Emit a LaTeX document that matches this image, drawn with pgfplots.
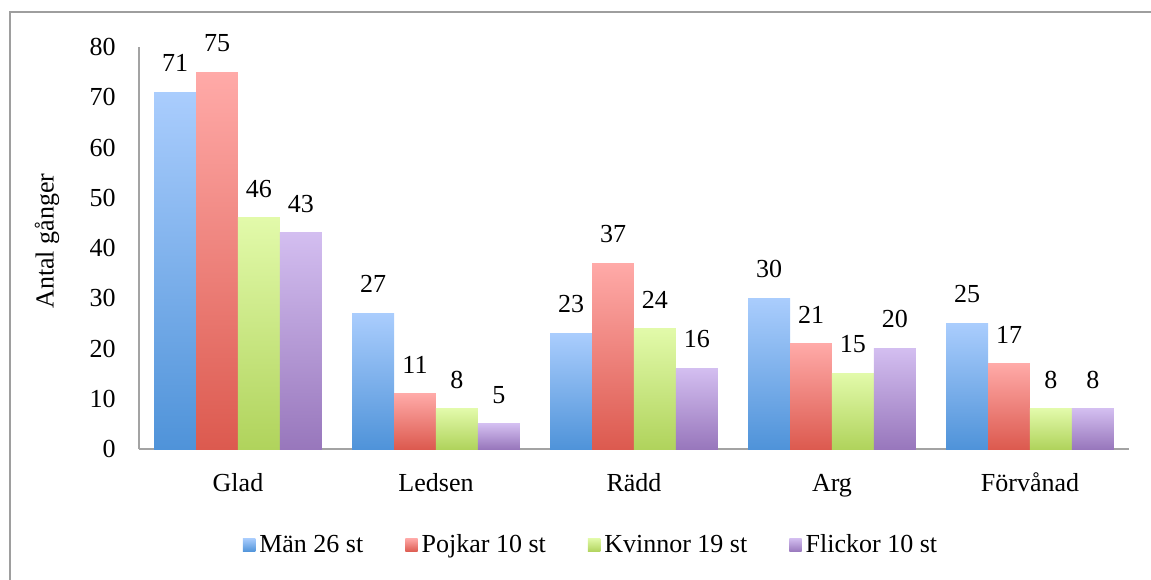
\documentclass[border=0pt]{standalone}
\usepackage{fontspec}
\setmainfont{Liberation Serif}
\usepackage{pgfplots}
\pgfplotsset{compat=1.18}
\definecolor{axgray}{HTML}{A3A3A3}
\definecolor{frame}{HTML}{9E9E9E}
\definecolor{blueT}{HTML}{AACDFD}
\definecolor{blueB}{HTML}{4F93D9}
\definecolor{redT}{HTML}{FFAAA8}
\definecolor{redB}{HTML}{DC5A4F}
\definecolor{greenT}{HTML}{E2FAAA}
\definecolor{greenB}{HTML}{B0D35C}
\definecolor{purpT}{HTML}{D3BEF0}
\definecolor{purpB}{HTML}{9877BC}
\newcommand{\cf}{\fontsize{13}{15.6}\selectfont}
% one bar per \addplot so each bar gets its own gradient
\newcommand{\gbar}[4]{\addplot[forget plot, draw=none, top color=#1T, bottom color=#1B, bar shift=#2] coordinates {(#3,#4)};}

\begin{document}
\begin{tikzpicture}
\begin{axis}[
  name=ax, scale only axis, width=495pt, height=201pt,
  ybar=0pt, bar width=0.212,
  xmin=-0.5, xmax=4.5, ymin=0, ymax=80, clip=false,
  xtick={0,...,4}, xticklabels={Glad,Ledsen,Rädd,Arg,Förvånad},
  ytick={0,10,...,80},
  axis x line*=bottom, axis y line*=left,
  axis line style={axgray, line width=0.9pt, -},
  tick style={draw=none},
  /pgf/number format/assume math mode=true,
  tick label style={font=\cf},
  yticklabel style={anchor=east, inner sep=0pt, xshift=-11.5pt},
  xticklabel style={anchor=base, inner sep=0pt, yshift=-17pt},
  ylabel={Antal gånger},
  ylabel style={font=\cf, at={(axis description cs:-0.093,0.517)}, anchor=center},
  nodes near coords,
  every node near coord/.append style={font=\cf, inner sep=0pt, yshift=10pt, black},
  legend columns=4,
  legend style={draw=none, fill=none, font=\cf, at={(axis description cs:0.4576,0)},
    anchor=center, yshift=-48pt, /tikz/every even column/.append style={column sep=19pt}},
  legend cell align=left,
  legend image code/.code={\path[#1] (0pt,-3.4pt) rectangle (6.2pt,3.4pt);},
]
% Män 26 st
\gbar{blue}{-0.318}{0}{71} \gbar{blue}{-0.318}{1}{27} \gbar{blue}{-0.318}{2}{23} \gbar{blue}{-0.318}{3}{30} \gbar{blue}{-0.318}{4}{25}
% Pojkar 10 st
\gbar{red}{-0.106}{0}{75} \gbar{red}{-0.106}{1}{11} \gbar{red}{-0.106}{2}{37} \gbar{red}{-0.106}{3}{21} \gbar{red}{-0.106}{4}{17}
% Kvinnor 19 st
\gbar{green}{0.106}{0}{46} \gbar{green}{0.106}{1}{8} \gbar{green}{0.106}{2}{24} \gbar{green}{0.106}{3}{15} \gbar{green}{0.106}{4}{8}
% Flickor 10 st
\gbar{purp}{0.318}{0}{43} \gbar{purp}{0.318}{1}{5} \gbar{purp}{0.318}{2}{16} \gbar{purp}{0.318}{3}{20} \gbar{purp}{0.318}{4}{8}
\addlegendimage{draw=none, top color=blueT, bottom color=blueB}
\addlegendimage{draw=none, top color=redT, bottom color=redB}
\addlegendimage{draw=none, top color=greenT, bottom color=greenB}
\addlegendimage{draw=none, top color=purpT, bottom color=purpB}
\legend{Män 26 st, Pojkar 10 st, Kvinnor 19 st, Flickor 10 st}
\end{axis}
\pgfresetboundingbox
\path[use as bounding box] ([shift={(-69.5pt,-65pt)}]ax.south west) rectangle ([shift={(506pt,224.5pt)}]ax.south west);
\draw[frame, line width=1pt] ([shift={(-64.5pt,-70pt)}]ax.south west) |- ([shift={(510pt,218.5pt)}]ax.south west);
\end{tikzpicture}
\end{document}
